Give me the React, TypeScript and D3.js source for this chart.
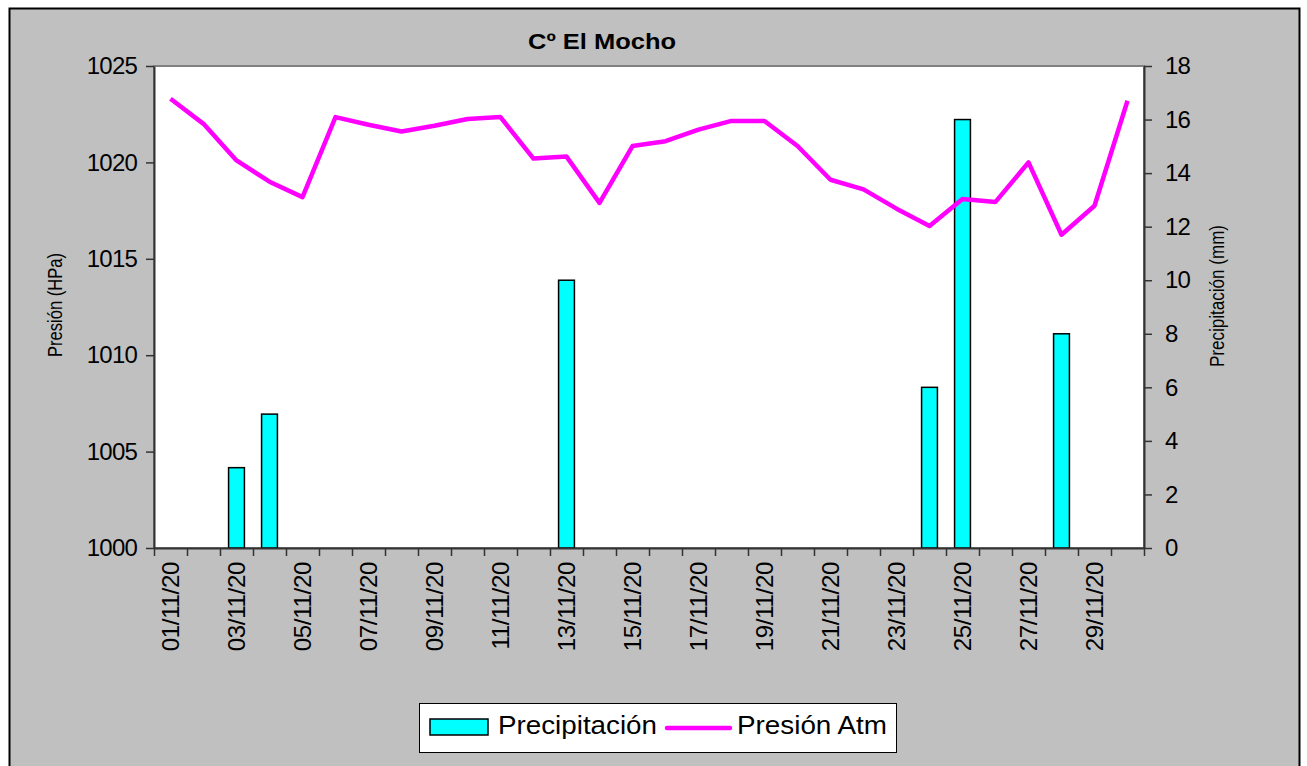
import React, { useEffect, useRef } from "react";
import * as d3 from "d3";

const dates = [
  "01/11/20", "02/11/20", "03/11/20", "04/11/20", "05/11/20", "06/11/20",
  "07/11/20", "08/11/20", "09/11/20", "10/11/20", "11/11/20", "12/11/20",
  "13/11/20", "14/11/20", "15/11/20", "16/11/20", "17/11/20", "18/11/20",
  "19/11/20", "20/11/20", "21/11/20", "22/11/20", "23/11/20", "24/11/20",
  "25/11/20", "26/11/20", "27/11/20", "28/11/20", "29/11/20", "30/11/20",
];
const pressure = [
  1023.3, 1022.0, 1020.1, 1019.0, 1018.2, 1022.35, 1021.95, 1021.6, 1021.9, 1022.25,
  1022.35, 1020.2, 1020.3, 1017.9, 1020.85, 1021.1, 1021.7, 1022.15, 1022.15, 1020.85,
  1019.1, 1018.6, 1017.6, 1016.7, 1018.1, 1017.95, 1020.0, 1016.25, 1017.75, 1023.2,
];
const precip = [
  0, 0, 3, 5, 0, 0, 0, 0, 0, 0,
  0, 0, 10, 0, 0, 0, 0, 0, 0, 0,
  0, 0, 0, 6, 16, 0, 0, 8, 0, 0,
];
const leftTicks = [1000, 1005, 1010, 1015, 1020, 1025];
const rightTicks = [0, 2, 4, 6, 8, 10, 12, 14, 16, 18];

const FONT = "'Liberation Sans', Arial, sans-serif";

const App = () => {
  const ref = useRef<SVGSVGElement>(null);

  useEffect(() => {
    const svg = d3.select(ref.current);
    svg.selectAll("*").remove();

    const left = 154, right = 1144, top = 66, bottom = 548;

    // chart area
    svg.append("rect")
      .attr("x", 9.5).attr("y", 8.5)
      .attr("width", 1290).attr("height", 770)
      .attr("fill", "#C0C0C0").attr("stroke", "#000").attr("stroke-width", 2);

    // plot area
    svg.append("rect")
      .attr("x", left).attr("y", top)
      .attr("width", right - left).attr("height", bottom - top)
      .attr("fill", "#fff").attr("stroke", "#808080").attr("stroke-width", 2);

    const x = d3.scaleBand().domain(dates).range([left, right]).padding(0);
    const xi = d3.scaleLinear().domain([0, dates.length]).range([left, right]);
    const yL = d3.scaleLinear().domain([1000, 1025]).range([bottom, top]);
    const yR = d3.scaleLinear().domain([0, 18]).range([bottom, top]);

    // bars
    const bw = x.bandwidth() * 0.48;
    svg.append("g")
      .selectAll("rect")
      .data(precip.map((v, i) => ({ d: dates[i], v })).filter((p) => p.v > 0))
      .enter()
      .append("rect")
      .attr("x", (p) => (x(p.d) as number) + x.bandwidth() / 2 - bw / 2)
      .attr("y", (p) => yR(p.v))
      .attr("width", bw)
      .attr("height", (p) => yR(0) - yR(p.v))
      .attr("fill", "#00FFFF")
      .attr("stroke", "#000")
      .attr("stroke-width", 1.5);

    // line
    const line = d3.line<number>()
      .x((_, i) => (x(dates[i]) as number) + x.bandwidth() / 2)
      .y((v) => yL(v));
    svg.append("path")
      .datum(pressure)
      .attr("d", line)
      .attr("fill", "none")
      .attr("stroke", "#FF00FF")
      .attr("stroke-width", 4.5)
      .attr("stroke-linejoin", "round");

    // left axis
    const gL = svg.append("g")
      .attr("transform", `translate(${left},0)`)
      .call(d3.axisLeft(yL).tickValues(leftTicks).tickFormat(d3.format("d")).tickSize(8).tickPadding(9).tickSizeOuter(0));
    // right axis
    const gR = svg.append("g")
      .attr("transform", `translate(${right},0)`)
      .call(d3.axisRight(yR).tickValues(rightTicks).tickFormat(d3.format("d")).tickSize(8).tickPadding(13).tickSizeOuter(0));
    // bottom ticks at band boundaries
    const gB = svg.append("g")
      .attr("transform", `translate(0,${bottom})`)
      .call(d3.axisBottom(xi).tickValues(d3.range(0, dates.length + 1)).tickSize(8).tickFormat(() => "").tickSizeOuter(0));

    [gL, gR, gB].forEach((g) => {
      g.select(".domain").attr("stroke", "#333").attr("stroke-width", 2);
      g.selectAll(".tick line").attr("stroke", "#333").attr("stroke-width", 1.5);
      g.selectAll("text")
        .attr("font-family", FONT)
        .attr("font-size", 24)
        .attr("letter-spacing", -0.8)
        .attr("fill", "#000");
    });

    // date labels (every other day)
    svg.append("g")
      .selectAll("text")
      .data(dates.filter((_, i) => i % 2 === 0))
      .enter()
      .append("text")
      .attr("transform", (d) =>
        `translate(${(x(d) as number) + x.bandwidth() / 2},562) rotate(-90)`)
      .attr("dy", "0.35em")
      .attr("text-anchor", "end")
      .attr("font-family", FONT)
      .attr("font-size", 24)
      .attr("letter-spacing", -0.3)
      .text((d) => d);

    // title
    svg.append("text")
      .attr("x", 602).attr("y", 49)
      .attr("text-anchor", "middle")
      .attr("font-family", FONT)
      .attr("font-size", 22)
      .attr("font-weight", "bold")
      .attr("textLength", 148)
      .attr("lengthAdjust", "spacingAndGlyphs")
      .text("Cº El Mocho");

    // axis titles
    svg.append("text")
      .attr("transform", "translate(62,305) rotate(-90)")
      .attr("text-anchor", "middle")
      .attr("font-family", FONT)
      .attr("font-size", 21)
      .attr("textLength", 104)
      .attr("lengthAdjust", "spacingAndGlyphs")
      .text("Presión (HPa)");
    svg.append("text")
      .attr("transform", "translate(1224,296) rotate(-90)")
      .attr("text-anchor", "middle")
      .attr("font-family", FONT)
      .attr("font-size", 21)
      .attr("textLength", 142)
      .attr("lengthAdjust", "spacingAndGlyphs")
      .text("Precipitación (mm)");

    // legend
    const lg = svg.append("g");
    lg.append("rect")
      .attr("x", 419.5).attr("y", 703.5)
      .attr("width", 477).attr("height", 49)
      .attr("fill", "#fff").attr("stroke", "#000").attr("stroke-width", 1);
    lg.append("rect")
      .attr("x", 430).attr("y", 719)
      .attr("width", 58).attr("height", 16)
      .attr("fill", "#00FFFF").attr("stroke", "#000").attr("stroke-width", 1.5);
    lg.append("text")
      .attr("x", 498).attr("y", 734)
      .attr("font-family", FONT).attr("font-size", 25)
      .attr("textLength", 159).attr("lengthAdjust", "spacingAndGlyphs")
      .text("Precipitación");
    lg.append("line")
      .attr("x1", 667).attr("x2", 730).attr("y1", 728).attr("y2", 728)
      .attr("stroke", "#FF00FF").attr("stroke-width", 4.5).attr("stroke-linecap", "round");
    lg.append("text")
      .attr("x", 737).attr("y", 734)
      .attr("font-family", FONT).attr("font-size", 25)
      .attr("textLength", 150).attr("lengthAdjust", "spacingAndGlyphs")
      .text("Presión Atm");
  }, []);

  return (
    <div style={{ position: "absolute", left: 0, top: 0 }}>
      <svg ref={ref} width={1307} height={766} style={{ display: "block" }} />
    </div>
  );
};

export default App;
